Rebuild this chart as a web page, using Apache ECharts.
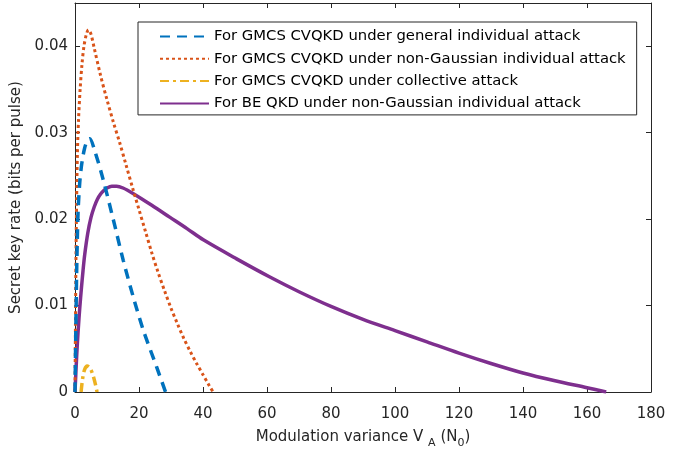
<!DOCTYPE html>
<html>
<head>
<meta charset="utf-8">
<script src="https://cdn.jsdelivr.net/npm/echarts@6/dist/echarts.min.js"></script>
<style>
html,body{margin:0;padding:0;background:#fff;}
#c{width:685px;height:455px;}
</style>
</head>
<body>
<div id="c"></div>
<script>
// Series names
var seriesNames = [
  'For GMCS CVQKD under general individual attack',
  'For GMCS CVQKD under non-Gaussian individual attack',
  'For GMCS CVQKD under collective attack',
  'For BE QKD under non-Gaussian individual attack'
];

// GMCS CVQKD, general individual attack (x = V_A, y = key rate)
var generalX = [0, 0.25, 0.5, 0.75, 1, 1.5, 2, 2.5, 3, 3.5, 4, 4.6, 6.25, 8.85, 12, 15.1, 18.2, 21.3, 25.5, 28.3];
var generalY = [0, 0.007, 0.0135, 0.0180, 0.0212, 0.0243, 0.0261, 0.0273, 0.0282, 0.0288, 0.0292, 0.0293, 0.0278, 0.0245, 0.0199, 0.0152, 0.0110, 0.0072, 0.0029, 0];

// GMCS CVQKD, non-Gaussian individual attack
var nonGaussX = [0, 0.15, 0.3, 0.5, 0.75, 1.1, 1.6, 2.2, 2.8, 3.5, 4.2, 5, 6, 8, 10, 12, 14, 16, 18, 20, 22, 24, 26, 28, 30, 32, 34, 36, 38, 40, 42, 43.2];
var nonGaussY = [0, 0.008, 0.0155, 0.0220, 0.0276, 0.0315, 0.0350, 0.0380, 0.0400, 0.0413, 0.0419, 0.0414, 0.0398, 0.0366, 0.0338, 0.0312, 0.0288, 0.0262, 0.0236, 0.0211, 0.0186, 0.0161, 0.0138, 0.0117, 0.0097, 0.0079, 0.0062, 0.0047, 0.0033, 0.0020, 0.0007, 0];

// GMCS CVQKD, collective attack
var collectiveX = [1.9, 2.4, 3.0, 3.8, 4.8, 5.9, 6.9];
var collectiveY = [0, 0.0016, 0.0026, 0.0030, 0.0027, 0.0016, 0];

// BE QKD, non-Gaussian individual attack
var beX = [0, 0.5, 1, 1.5, 2, 2.5, 3, 4, 5, 6, 7, 8, 9, 10, 11.5, 13, 15, 18, 24, 29.7, 35, 40.1, 50.5, 60.9, 70, 80, 90, 100, 110, 120, 130, 140, 150, 160, 166];
var beY = [0, 0.0040, 0.0072, 0.0098, 0.0120, 0.0140, 0.0158, 0.0184, 0.0202, 0.0214, 0.0223, 0.0229, 0.0233, 0.0236, 0.0238, 0.0238, 0.0236, 0.0230, 0.0216, 0.0202, 0.0189, 0.0176, 0.0154, 0.0133, 0.0116, 0.0099, 0.0084, 0.0071, 0.0058, 0.0045, 0.0033, 0.0022, 0.0013, 0.0005, 0];

function pairs(xs, ys) { return xs.map(function (x, i) { return [x, ys[i]]; }); }

var axisColor = '#262626';
var font = 'DejaVu Sans, Verdana, sans-serif';

var chart = echarts.init(document.getElementById('c'), null, {renderer: 'canvas'});
chart.setOption({
  animation: false,
  backgroundColor: '#fff',
  grid: {left: 75, right: 34, top: 3, bottom: 63, containLabel: false},
  legend: {
    orient: 'vertical',
    left: 138, top: 22,
    padding: [7, 11, 4, 21],
    itemGap: 7.3,
    itemWidth: 49, itemHeight: 14,
    backgroundColor: '#fff',
    borderColor: axisColor, borderWidth: 1,
    itemStyle: {opacity: 0},
    textStyle: {fontFamily: font, fontSize: 14.8, color: '#000'},
    data: seriesNames
  },
  xAxis: [{
    type: 'value', min: 0, max: 180, interval: 20, position: 'bottom',
    name: 'Modulation variance V {s|A} (N{s|0})',
    nameLocation: 'middle', nameGap: 34,
    nameTextStyle: {fontFamily: font, fontSize: 15, color: axisColor,
      rich: {s: {fontFamily: font, fontSize: 11, color: axisColor, verticalAlign: 'bottom', padding: [12, 0, 0, 0]}}},
    axisLine: {show: true, onZero: false, lineStyle: {color: axisColor, width: 1}},
    axisTick: {show: true, inside: true, length: 5, lineStyle: {color: axisColor}},
    axisLabel: {fontFamily: font, fontSize: 15, color: axisColor, margin: 15},
    splitLine: {show: false}
  }, {
    type: 'value', min: 0, max: 180, interval: 20, position: 'top',
    axisLine: {show: true, onZero: false, lineStyle: {color: axisColor, width: 1}},
    axisTick: {show: true, inside: true, length: 5, lineStyle: {color: axisColor}},
    axisLabel: {show: false},
    splitLine: {show: false}
  }],
  yAxis: [{
    type: 'value', min: 0, max: 0.045, interval: 0.01, position: 'left',
    name: 'Secret key rate (bits per pulse)',
    nameLocation: 'middle', nameGap: 48, nameRotate: 90,
    nameTextStyle: {fontFamily: font, fontSize: 15, color: axisColor},
    axisLine: {show: true, onZero: false, lineStyle: {color: axisColor, width: 1}},
    axisTick: {show: true, inside: true, length: 5, lineStyle: {color: axisColor}},
    axisLabel: {fontFamily: font, fontSize: 15, color: axisColor, margin: 7, showMaxLabel: false},
    splitLine: {show: false}
  }, {
    type: 'value', min: 0, max: 0.045, interval: 0.01, position: 'right',
    axisLine: {show: true, onZero: false, lineStyle: {color: axisColor, width: 1}},
    axisTick: {show: true, inside: true, length: 5, lineStyle: {color: axisColor}},
    axisLabel: {show: false},
    splitLine: {show: false}
  }],
  series: [{
    name: seriesNames[0], type: 'line', symbol: 'none', smooth: 0.3,
    data: pairs(generalX, generalY),
    lineStyle: {color: '#0072BD', width: 3.5, type: [10, 7]},
    itemStyle: {color: '#0072BD'}, z: 3
  }, {
    name: seriesNames[1], type: 'line', symbol: 'none', smooth: 0.3,
    data: pairs(nonGaussX, nonGaussY),
    lineStyle: {color: '#D95319', width: 3, type: [3, 3]},
    itemStyle: {color: '#D95319'}, z: 2
  }, {
    name: seriesNames[2], type: 'line', symbol: 'none', smooth: 0.3,
    data: pairs(collectiveX, collectiveY),
    lineStyle: {color: '#EDB120', width: 3.5, type: [9, 4, 3, 4]},
    itemStyle: {color: '#EDB120'}, z: 4
  }, {
    name: seriesNames[3], type: 'line', symbol: 'none', smooth: 0.3,
    data: pairs(beX, beY),
    lineStyle: {color: '#7E2F8E', width: 3.5},
    itemStyle: {color: '#7E2F8E'}, z: 1
  }]
});
</script>
</body>
</html>
